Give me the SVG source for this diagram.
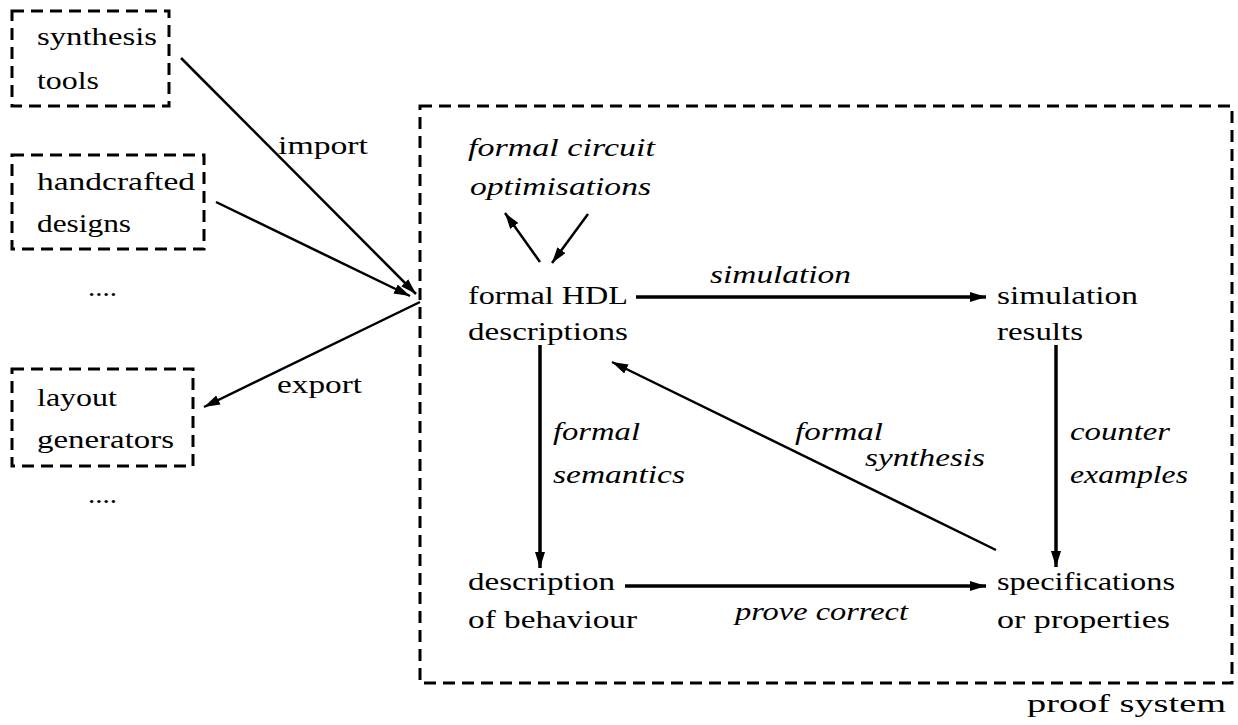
<svg xmlns="http://www.w3.org/2000/svg" width="1238" height="725" viewBox="0 0 1238 725" font-family="Liberation Serif, DejaVu Serif, serif">
<style>
text{font-size:25px;fill:#000}
.i{font-style:italic}
.box{fill:none;stroke:#000;stroke-width:3;stroke-dasharray:12 7}
.c{fill:none;stroke:#000;stroke-width:2.5}
.t{stroke-width:3.5}
</style>
<defs>
<marker id="ah" markerUnits="userSpaceOnUse" markerWidth="18" markerHeight="12" refX="16" refY="5" orient="auto">
<path d="M0,0 L16,5 L0,10 z" fill="#000"/>
</marker>
</defs>
<g id="synthesis-tools">
<rect class="box" x="12" y="11" width="157" height="95"/>
<text x="37" y="45" textLength="120" lengthAdjust="spacingAndGlyphs">synthesis</text>
<text x="37" y="89" textLength="62" lengthAdjust="spacingAndGlyphs">tools</text>
</g>
<g id="handcrafted-designs">
<rect class="box" x="12" y="155" width="192" height="94"/>
<text x="37" y="190" textLength="158" lengthAdjust="spacingAndGlyphs">handcrafted</text>
<text x="37" y="232" textLength="94" lengthAdjust="spacingAndGlyphs">designs</text>
</g>
<text x="88" y="296" textLength="29" lengthAdjust="spacingAndGlyphs">....</text>
<g id="layout-generators">
<rect class="box" x="12" y="369" width="181" height="97"/>
<text x="37" y="406" textLength="80" lengthAdjust="spacingAndGlyphs">layout</text>
<text x="37" y="448" textLength="137" lengthAdjust="spacingAndGlyphs">generators</text>
</g>
<text x="88" y="503" textLength="29" lengthAdjust="spacingAndGlyphs">....</text>
<g id="proof-system">
<rect class="box" x="420" y="106" width="812" height="577"/>
<text x="1027" y="712" textLength="199" lengthAdjust="spacingAndGlyphs">proof system</text>
</g>
<g id="optimisations">
<text class="i" x="468" y="156" textLength="187" lengthAdjust="spacingAndGlyphs">formal circuit</text>
<text class="i" x="470" y="195" textLength="181" lengthAdjust="spacingAndGlyphs">optimisations</text>
</g>
<g id="hdl">
<text x="468" y="304" textLength="160" lengthAdjust="spacingAndGlyphs">formal HDL</text>
<text x="468" y="340" textLength="160" lengthAdjust="spacingAndGlyphs">descriptions</text>
</g>
<g id="sim-results">
<text x="997" y="304" textLength="141" lengthAdjust="spacingAndGlyphs">simulation</text>
<text x="997" y="340" textLength="86" lengthAdjust="spacingAndGlyphs">results</text>
</g>
<g id="behaviour">
<text x="468" y="590" textLength="147" lengthAdjust="spacingAndGlyphs">description</text>
<text x="468" y="628" textLength="169" lengthAdjust="spacingAndGlyphs">of behaviour</text>
</g>
<g id="specs">
<text x="997" y="590" textLength="178" lengthAdjust="spacingAndGlyphs">specifications</text>
<text x="997" y="628" textLength="173" lengthAdjust="spacingAndGlyphs">or properties</text>
</g>
<g id="connectors">
<line class="c" x1="181" y1="58" x2="416" y2="294" stroke-width="2" marker-end="url(#ah)"/>
<line class="c" x1="216" y1="202" x2="410" y2="296" marker-end="url(#ah)"/>
<line class="c" x1="420" y1="302" x2="204" y2="407" marker-end="url(#ah)"/>
<line class="c" x1="540" y1="262" x2="505" y2="213" marker-end="url(#ah)"/>
<line class="c" x1="588" y1="214" x2="552" y2="263" marker-end="url(#ah)"/>
<line class="c t" x1="636" y1="297" x2="986" y2="297" marker-end="url(#ah)"/>
<line class="c t" x1="1056" y1="345" x2="1056" y2="567" marker-end="url(#ah)"/>
<line class="c t" x1="540" y1="345" x2="540" y2="568" marker-end="url(#ah)"/>
<line class="c t" x1="625" y1="586" x2="986" y2="586" marker-end="url(#ah)"/>
<line class="c" x1="996" y1="550" x2="612" y2="362" marker-end="url(#ah)"/>
<text x="278" y="154" textLength="90" lengthAdjust="spacingAndGlyphs">import</text>
<text x="277" y="393" textLength="85" lengthAdjust="spacingAndGlyphs">export</text>
<text class="i" x="710" y="283" textLength="141" lengthAdjust="spacingAndGlyphs">simulation</text>
<text class="i" x="553" y="440" textLength="87" lengthAdjust="spacingAndGlyphs">formal</text>
<text class="i" x="553" y="483" textLength="132" lengthAdjust="spacingAndGlyphs">semantics</text>
<text class="i" x="795" y="440" textLength="88" lengthAdjust="spacingAndGlyphs">formal</text>
<text class="i" x="865" y="466" textLength="120" lengthAdjust="spacingAndGlyphs">synthesis</text>
<text class="i" x="1070" y="440" textLength="100" lengthAdjust="spacingAndGlyphs">counter</text>
<text class="i" x="1070" y="483" textLength="118" lengthAdjust="spacingAndGlyphs">examples</text>
<text class="i" x="735" y="620" textLength="173" lengthAdjust="spacingAndGlyphs">prove correct</text>
</g>
</svg>
